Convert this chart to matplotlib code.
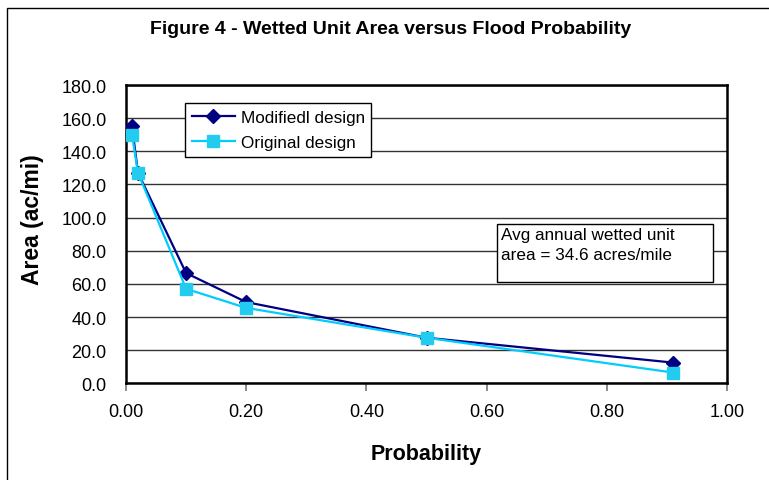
import matplotlib
matplotlib.use('Agg')
import matplotlib.pyplot as plt
from matplotlib.patches import Rectangle
from matplotlib.ticker import FormatStrFormatter, MultipleLocator

# data
prob = [0.01, 0.02, 0.10, 0.20, 0.50, 0.91]
modified = [155.0, 127.0, 66.5, 49.0, 27.5, 12.5]
original = [150.0, 127.0, 57.0, 45.5, 27.5, 6.5]

plt.rcParams['font.family'] = ['Liberation Sans', 'DejaVu Sans']

W, H = 769, 481
fig = plt.figure(figsize=(W / 100.0, H / 100.0), dpi=100)

# outer chart frame (cropped on the right and bottom)
fig.patches.append(Rectangle((7.0 / W, -0.1), 1.5, 1 - 9.0 / H + 0.1,
                             transform=fig.transFigure, fill=False,
                             edgecolor='black', linewidth=1.0))

ax = fig.add_axes([126.0 / W, 1 - 384.3 / H, 601.0 / W, 298.3 / H])

l1, = ax.plot(prob, modified, color='#000080', marker='D', markersize=7,
              markerfacecolor='#000080', markeredgecolor='#000080',
              linewidth=1.6, zorder=5)
l2, = ax.plot(prob, original, color='#00CCFF', marker='s', markersize=8,
              markerfacecolor='#22CCEE', markeredgecolor='#22CCEE',
              linewidth=1.6, zorder=6)

ax.set_xlim(0, 1.0)
ax.set_ylim(0, 180)
ax.xaxis.set_major_locator(MultipleLocator(0.2))
ax.yaxis.set_major_locator(MultipleLocator(20))
ax.xaxis.set_major_formatter(FormatStrFormatter('%.2f'))
ax.yaxis.set_major_formatter(FormatStrFormatter('%.1f'))
ax.yaxis.grid(True, color='#333333', linewidth=1.0)
ax.set_axisbelow(True)
for s in ax.spines.values():
    s.set_linewidth(1.8)
ax.tick_params(axis='x', length=6, width=1.2, color='#777777', pad=8, labelsize=13)
ax.tick_params(axis='y', length=0, pad=14, labelsize=13)

ax.set_xlabel('Probability', fontsize=15.5, fontweight='bold', labelpad=17)
ax.set_ylabel('Area (ac/mi)', fontsize=16.5, fontweight='bold')
ax.yaxis.set_label_coords(-0.136, 0.552)

fig.text(391.0 / W, 1 - 30.0 / H, 'Figure 4 - Wetted Unit Area versus Flood Probability',
         ha='center', va='center', fontsize=14, fontweight='bold')

leg = ax.legend((l1, l2), ('Modifiedl design', 'Original design'),
                loc='upper left', bbox_to_anchor=(185.0 / W, 1 - 104.0 / H),
                bbox_transform=fig.transFigure, borderaxespad=0,
                fancybox=False, framealpha=1, edgecolor='black',
                fontsize=12.3, handlelength=2.5, handletextpad=0.35,
                borderpad=0.4, labelspacing=0.6)
leg.get_frame().set_linewidth(1.0)

fig.text(501.0 / W, 1 - 228.0 / H, 'Avg annual wetted unit\narea = 34.6 acres/mile',
         ha='left', va='top', fontsize=12.3, linespacing=1.45)
fig.patches.append(Rectangle((497.0 / W, 1 - 283.0 / H), 216.0 / W, 58.0 / H,
                             transform=fig.transFigure, facecolor='white',
                             edgecolor='black', linewidth=1.0, zorder=3))

fig.savefig('out.png', dpi=100)
